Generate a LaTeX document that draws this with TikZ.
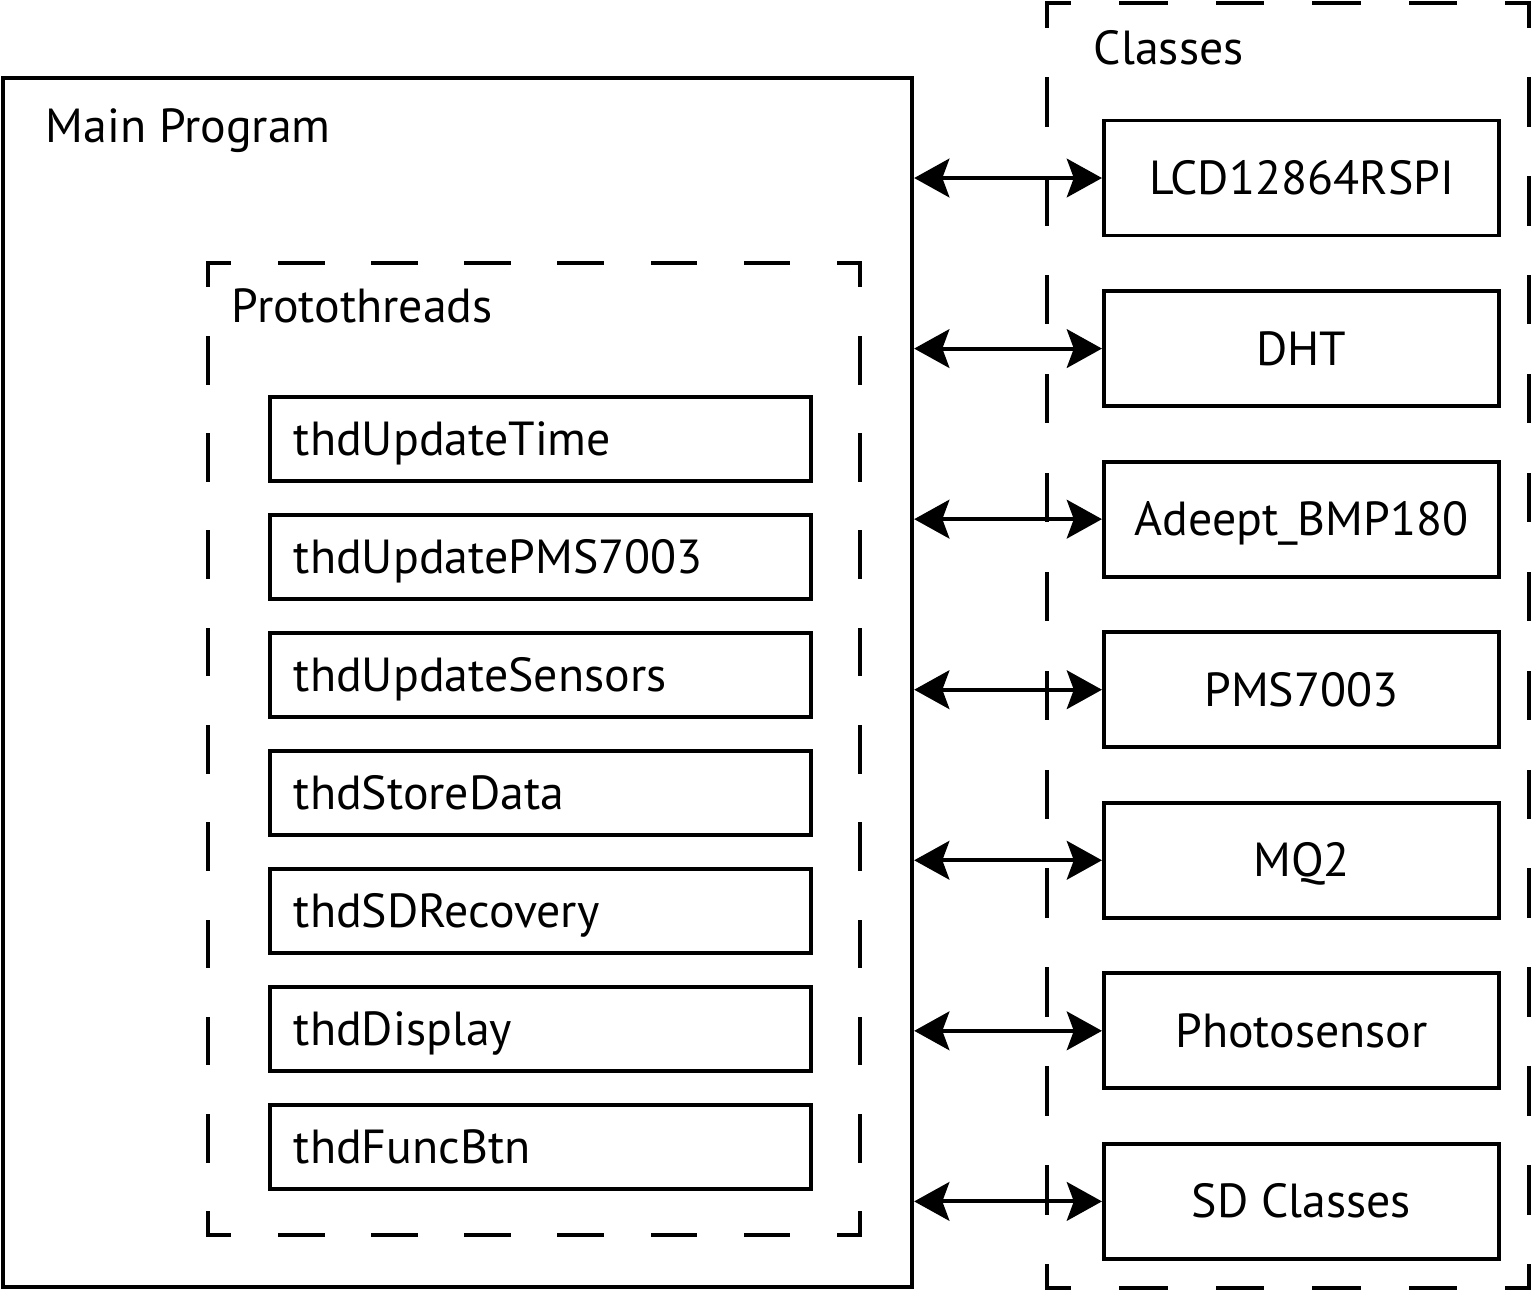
\documentclass[tikz,border=0pt]{standalone}
\usepackage{fontspec}
\setmainfont{PT Sans}
\usetikzlibrary{arrows.meta,positioning}

% dashed frame with a half dash at every corner
% #1,#2 = top left, #3,#4 = bottom right, #5/#6 = dashes across/down
\newcommand{\dashframe}[6]{%
  \pgfmathsetmacro\dhon{(#3-#1)/#5*0.5*0.28453-1.1}%
  \pgfmathsetmacro\dhoff{(#3-#1)/#5*0.5*0.28453+1.1}%
  \pgfmathsetmacro\dvon{(#4-#2)/#6*0.5*0.28453-1.1}%
  \pgfmathsetmacro\dvoff{(#4-#2)/#6*0.5*0.28453+1.1}%
  \draw[line cap=rect, dash pattern=on \dhon pt off \dhoff pt, dash phase=0.5*\dhon pt]
    (#1,#2) -- (#3,#2) (#1,#4) -- (#3,#4);
  \draw[line cap=rect, dash pattern=on \dvon pt off \dvoff pt, dash phase=0.5*\dvon pt]
    (#1,#2) -- (#1,#4) (#3,#2) -- (#3,#4);
}

\begin{document}
\begin{tikzpicture}[
  x=0.01cm, y=-0.01cm,
  line width=1.1pt,
  node distance=0.30cm,
  every node/.style={font=\fontsize{13.6}{16}\selectfont},
  title/.style={anchor=base west,inner sep=0pt},
  thdbox/.style={draw,text width=4.93cm,align=left,inner xsep=0.24cm,
    minimum height=0.84cm,text height=0.33cm,text depth=0pt},
  clsbox/.style={draw,minimum width=3.95cm,minimum height=1.15cm,
    text height=0.33cm,text depth=0pt},
  edge/.style={{Stealth[length=10pt,width=11pt,inset=2pt]}-{Stealth[length=10pt,width=11pt,inset=2pt]}}
]
\useasboundingbox (0,0) rectangle (1533,1293);

% main program
\node[draw,minimum width=9.09cm,minimum height=12.09cm] (main) at (457.5,682.5) {};
\node[title] (mainlbl) at (44,142) {Main Program};

% protothreads
\dashframe{208}{263}{860}{1235}{7}{10}
\node[title] (protolbl) at (230,322) {Protothreads};
\node[thdbox] (thdtime) at (540.5,439) {thdUpdateTime};
\node[thdbox,below=of thdtime] (thdpms) {thdUpdatePMS7003};
\node[thdbox,below=of thdpms] (thdsens) {thdUpdateSensors};
\node[thdbox,below=of thdsens] (thdstore) {thdStoreData};
\node[thdbox,below=of thdstore] (thdsd) {thdSDRecovery};
\node[thdbox,below=of thdsd] (thddisp) {thdDisplay};
\node[thdbox,below=of thddisp] (thdbtn) {thdFuncBtn};

% classes
\dashframe{1047}{3}{1529}{1288}{5}{13}
\node[title] (clslbl) at (1092,64) {Classes};
\node[clsbox] (lcd) at (1301.5,178) {LCD12864RSPI};
\node[clsbox,below=0.516cm of lcd] (dht) {DHT};
\node[clsbox,below=0.516cm of dht] (bmp) {Adeept\_BMP180};
\node[clsbox,below=0.516cm of bmp] (pms) {PMS7003};
\node[clsbox,below=0.516cm of pms] (mq) {MQ2};
\node[clsbox,below=0.516cm of mq] (photo) {Photosensor};
\node[clsbox,below=0.516cm of photo] (sdc) {SD Classes};

\foreach \c in {lcd,dht,bmp,pms,mq,photo,sdc}
  \draw[edge] (main.east |- \c.west) -- (\c.west);
\end{tikzpicture}
\end{document}
